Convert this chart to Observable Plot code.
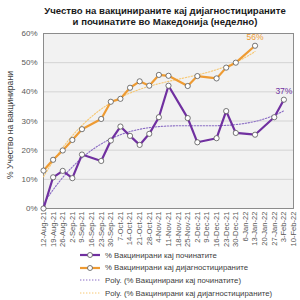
<!DOCTYPE html>
<html><head><meta charset="utf-8">
<script src="https://cdn.jsdelivr.net/npm/d3@7"></script>
<script src="https://cdn.jsdelivr.net/npm/@observablehq/plot@0.6"></script>
<style>
body{margin:0;background:#fff;}
#wrap{position:relative;width:300px;height:300px;overflow:hidden;font-family:"Liberation Sans",Arial,sans-serif;background:#fff;}
#wrap > svg{position:absolute;left:0;top:0;}
#title{position:absolute;left:40px;width:250px;top:5px;text-align:center;font-weight:bold;font-size:9.6px;line-height:11px;color:#1a1a1a;}
#ylab{position:absolute;left:10px;top:125px;transform:translate(-50%,-50%) rotate(-90deg);white-space:nowrap;font-size:8.6px;color:#404040;}
#legend{position:absolute;left:79px;top:249px;font-size:7.8px;color:#404040;}
.row{height:12.6px;display:flex;align-items:center;white-space:nowrap;}
.row svg{width:22px;height:10px;margin-right:4px;flex:none;}
</style></head><body><div id="wrap"><div id="title">Учество на вакцинираните кај дијагностицираните<br>и починатите во Македонија (неделно)</div><div id="ylab">% Учество на вакцинирани</div><div id="legend"></div></div>
<script>
const weeks = ["12-Aug-21","19-Aug-21","26-Aug-21","2-Sep-21","9-Sep-21","16-Sep-21","23-Sep-21","30-Sep-21","7-Oct-21","14-Oct-21","21-Oct-21","28-Oct-21","4-Nov-21","11-Nov-21","18-Nov-21","25-Nov-21","2-Dec-21","9-Dec-21","16-Dec-21","23-Dec-21","30-Dec-21","6-Jan-22","13-Jan-22","20-Jan-22","27-Jan-22","3-Feb-22","10-Feb-22"];
// % vaccinated among deaths (purple)
const deathsPct = [0,10.7,12.9,10.4,18.5,null,16.3,23.3,28.1,24.9,21.8,25.6,31.3,42.1,null,31.0,22.7,null,24.1,33.4,25.9,null,25.3,null,31.3,37.3,null];
// % vaccinated among diagnosed (orange)
const casesPct = [13.0,16.7,19.9,23.5,27.2,null,30.7,36.6,37.6,41.4,43.6,42.1,45.8,45.5,null,42.0,45.4,null,44.6,48.3,50.0,null,55.8,null,null,null,null];
const seriesNames = ["% Вакцинирани кај починатите","% Вакцинирани кај дијагностицираните","Poly. (% Вакцинирани кај починатите)","Poly. (% Вакцинирани кај дијагностицираните)"];
const yTicks = [0,10,20,30,40,50,60];
const polyOrder = 3;

const purple = "#7030a0", orange = "#ee9b33", purpleTrend = "#8a6cc4", orangeTrend = "#f7c873";

function pts(arr){ return arr.map((v,i)=>({i, v})).filter(d=>d.v!=null); }
const deaths = pts(deathsPct), cases = pts(casesPct);

function polyfit(data, order){
  const n = order+1;
  const A = Array.from({length:n},()=>new Array(n+1).fill(0));
  for(const d of data){
    const t = d.i/26;
    for(let r=0;r<n;r++){
      for(let c=0;c<n;c++) A[r][c]+=Math.pow(t,r+c);
      A[r][n]+=d.v*Math.pow(t,r);
    }
  }
  for(let k=0;k<n;k++){
    let p=k; for(let r=k+1;r<n;r++) if(Math.abs(A[r][k])>Math.abs(A[p][k])) p=r;
    [A[k],A[p]]=[A[p],A[k]];
    for(let r=0;r<n;r++){ if(r===k) continue; const f=A[r][k]/A[k][k]; for(let c=k;c<=n;c++) A[r][c]-=f*A[k][c]; }
  }
  return A.map((row,k)=>row[n]/row[k]);
}
function trend(data){
  const co = polyfit(data, polyOrder);
  const x0 = data[0].i, x1 = data[data.length-1].i;
  const out=[];
  for(let x=x0;x<=x1+1e-9;x+=0.2){ const t=x/26; out.push({i:x, v:co.reduce((s,c,k)=>s+c*Math.pow(t,k),0)}); }
  return out;
}
const dTrend = trend(deaths), cTrend = trend(cases);
const lastD = deaths[deaths.length-1], lastC = cases[cases.length-1];

const chart = Plot.plot({
  width:300, height:300,
  marginLeft:43, marginRight:7, marginTop:33, marginBottom:92,
  style:{fontFamily:'"Liberation Sans", Arial, sans-serif', fontSize:"8px", color:"#595959", background:"transparent"},
  x:{domain:[0,26]},
  y:{domain:[0,60]},
  marks:[
    Plot.frame({fill:"#f2f2f2", stroke:"none"}),
    Plot.gridY(yTicks, {stroke:"#d4d4d4", strokeOpacity:1, strokeWidth:1}),
    Plot.frame({stroke:"#8c8c8c", strokeWidth:1}),
    Plot.axisY({ticks:yTicks, tickFormat:d=>d+"%", tickSize:0, tickPadding:6, label:null, fontSize:8, fill:"#595959"}),
    Plot.axisX({ticks:d3.range(weeks.length), tickFormat:i=>weeks[i], tickRotate:-90, tickSize:0, tickPadding:3, label:null, fontSize:7.6, fill:"#595959"}),
    Plot.line(dTrend, {x:"i", y:"v", stroke:purpleTrend, strokeWidth:1.1, strokeDasharray:"1.4,1.6"}),
    Plot.line(cTrend, {x:"i", y:"v", stroke:orangeTrend, strokeWidth:1.1, strokeDasharray:"1.4,1.6"}),
    Plot.line(cases, {x:"i", y:"v", stroke:orange, strokeWidth:2.2, strokeLinejoin:"round"}),
    Plot.line(deaths, {x:"i", y:"v", stroke:purple, strokeWidth:2.2, strokeLinejoin:"round"}),
    Plot.dot(cases, {x:"i", y:"v", r:2.6, fill:"white", stroke:"#555", strokeWidth:0.8}),
    Plot.dot(deaths, {x:"i", y:"v", r:2.6, fill:"white", stroke:"#555", strokeWidth:0.8}),
    Plot.text([lastC], {x:"i", y:"v", text:d=>Math.round(d.v)+"%", dy:-8, fill:orange, fontSize:8.5}),
    Plot.text([lastD], {x:"i", y:"v", text:d=>Math.round(d.v)+"%", dy:-8, fill:purple, fontSize:8.5})
  ]
});
document.getElementById("wrap").prepend(chart);

const legendStyles = [
  {stroke:purple, w:2.2, dash:null, marker:true},
  {stroke:orange, w:2.2, dash:null, marker:true},
  {stroke:purpleTrend, w:1, dash:"1.4,1.6", marker:false},
  {stroke:orangeTrend, w:1, dash:"1.4,1.6", marker:false}
];
const leg = document.getElementById("legend");
seriesNames.forEach((name,k)=>{
  const s = legendStyles[k];
  const row = document.createElement("div"); row.className="row";
  row.innerHTML = `<svg viewBox="0 0 22 10"><line x1="1" x2="21" y1="5" y2="5" stroke="${s.stroke}" stroke-width="${s.w}" ${s.dash?`stroke-dasharray="${s.dash}"`:""}/>${s.marker?`<circle cx="11" cy="5" r="2.5" fill="white" stroke="#555" stroke-width="0.8"/>`:""}</svg><span></span>`;
  row.querySelector("span").textContent = name;
  leg.appendChild(row);
});
</script></body></html>
